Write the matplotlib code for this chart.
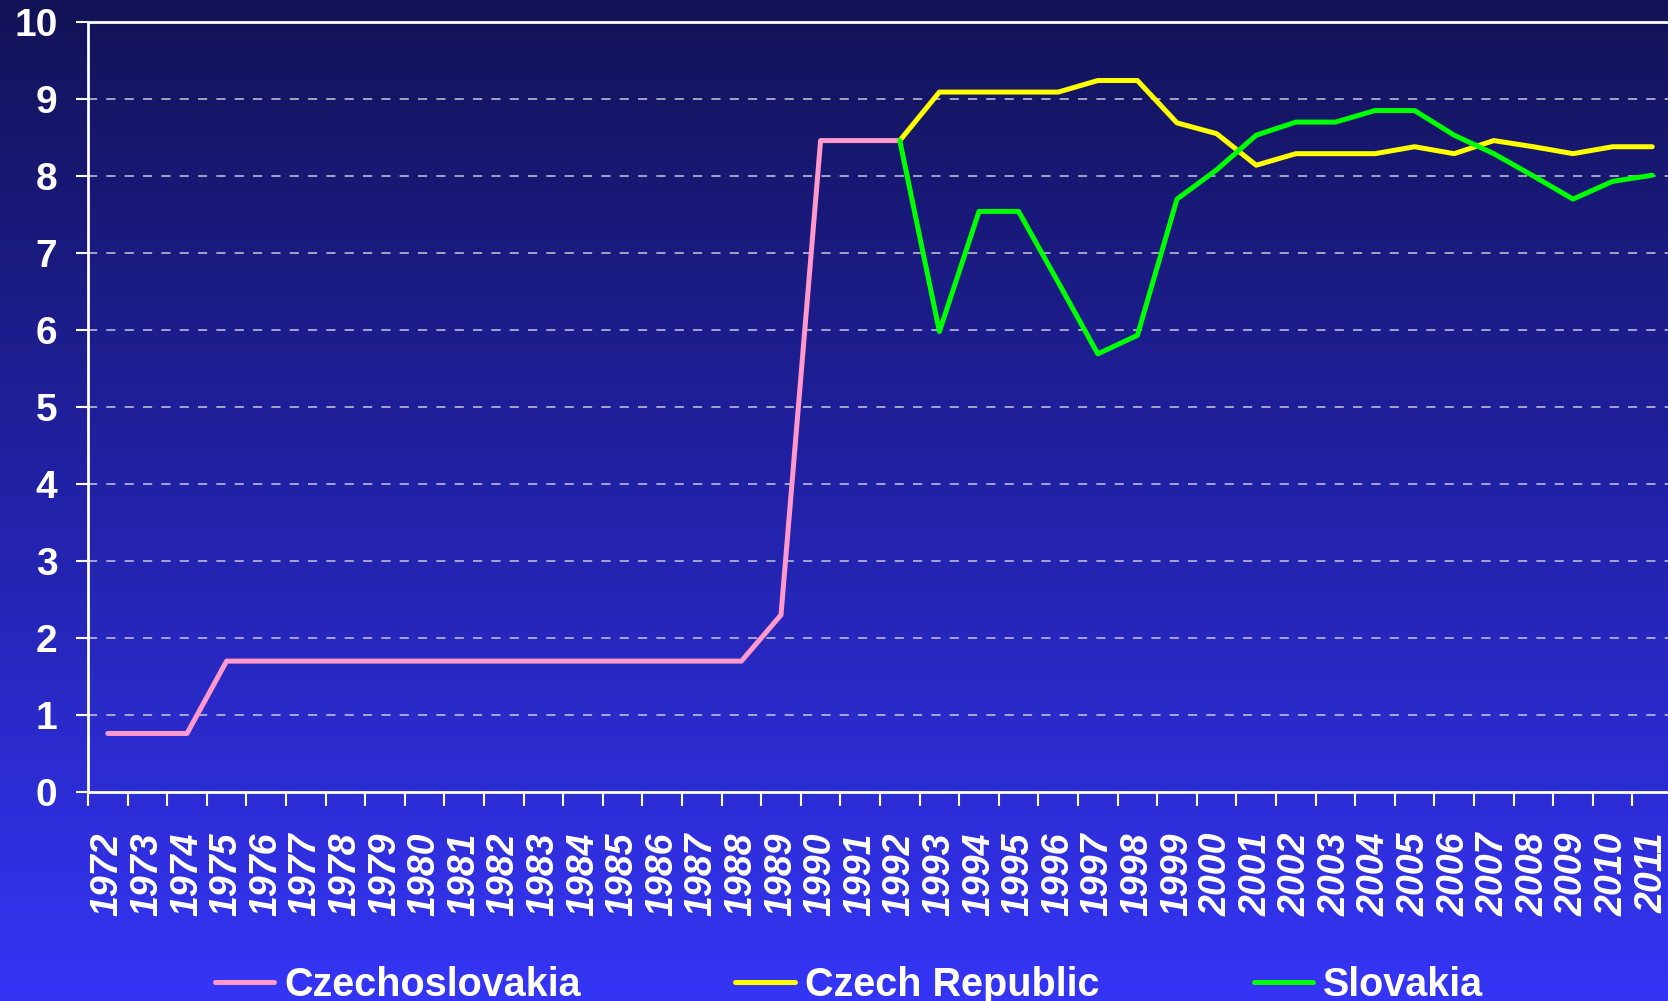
import numpy as np
import matplotlib
matplotlib.use("Agg")
import matplotlib.pyplot as plt
from matplotlib.colors import LinearSegmentedColormap

# data
years = list(range(1972, 2012))
czechoslovakia = [0.76, 0.76, 0.76] + [1.70] * 14 + [2.30, 8.46, 8.46, 8.46]
czech_years = list(range(1992, 2012))
czech_republic = [8.46, 9.09, 9.09, 9.09, 9.09, 9.24, 9.24, 8.69, 8.55, 8.14,
                  8.29, 8.29, 8.29, 8.38, 8.29, 8.46, 8.38, 8.29, 8.38, 8.38]
slovakia = [8.46, 5.98, 7.54, 7.54, 6.62, 5.69, 5.93, 7.70, 8.08, 8.53,
            8.70, 8.70, 8.85, 8.85, 8.53, 8.29, 8.00, 7.70, 7.93, 8.01]

W, H = 1668, 1001
fig = plt.figure(figsize=(W / 100, H / 100), dpi=100)

# gradient background over the whole figure
bg = fig.add_axes([0, 0, 1, 1], zorder=-10)
cmap = LinearSegmentedColormap.from_list("bg", ["#121356", "#2222A8", "#3535F6"])
bg.imshow(np.linspace(0, 1, 256).reshape(-1, 1), aspect="auto", cmap=cmap,
          extent=[0, 1, 0, 1], origin="upper")
bg.set_axis_off()

left, right = 88 / W, 1672 / W
bottom, top = 1 - 792 / H, 1 - 22 / H
ax = fig.add_axes([left, bottom, right - left, top - bottom])
ax.set_facecolor("none")

idx = {y: i for i, y in enumerate(years)}
x_cs = [idx[y] for y in years[:len(czechoslovakia)]]
x_cz = [idx[y] for y in czech_years]

l1, = ax.plot(x_cs, czechoslovakia, color="#FF99CC", lw=3.6, label="Czechoslovakia",
              solid_capstyle="round", zorder=3)
l2, = ax.plot(x_cz, czech_republic, color="#FFFF00", lw=3.6, label="Czech Republic",
              solid_capstyle="round", zorder=3)
l3, = ax.plot(x_cz, slovakia, color="#00FF00", lw=3.6, label="Slovakia",
              solid_capstyle="round", zorder=4)

ax.set_xlim(-0.5, len(years) - 0.5)
ax.set_ylim(0, 10)

# y axis
ax.set_yticks(range(0, 11))
ax.set_yticklabels([str(v) for v in range(0, 11)], fontsize=28, fontweight="bold",
                   color="white", family="Liberation Sans")
ax.tick_params(axis="y", direction="out", length=9, width=1.5, color="white", pad=13)
for v in range(1, 10):
    ax.axhline(v, color="#C8C8DC", lw=1.1, ls=(0, (6, 6)), zorder=1)

# x axis: labels at centres, ticks on the boundaries
ax.set_xticks(range(len(years)))
ax.set_xticklabels([str(y) for y in years], rotation=90, fontsize=27,
                   fontweight="bold", fontstyle="italic", color="white",
                   family="Liberation Sans")
ax.tick_params(axis="x", which="major", length=0, pad=29)
ax.set_xticks(np.arange(-0.5, len(years), 1), minor=True)
ax.tick_params(axis="x", which="minor", direction="out", length=10, width=1.5,
               color="white")

for s in ["left", "bottom", "top"]:
    ax.spines[s].set_color("white")
    ax.spines[s].set_linewidth(2)
ax.spines["right"].set_visible(False)

fig.legend(handles=[l1, l2, l3], loc="center", bbox_to_anchor=(0.509, 0.016),
           ncol=3, frameon=False, handlelength=1.5, handletextpad=0.25,
           columnspacing=3.9,
           prop={"family": "Liberation Sans", "weight": "bold", "size": 28.5},
           labelcolor="white")

fig.savefig("out.png", dpi=100)
